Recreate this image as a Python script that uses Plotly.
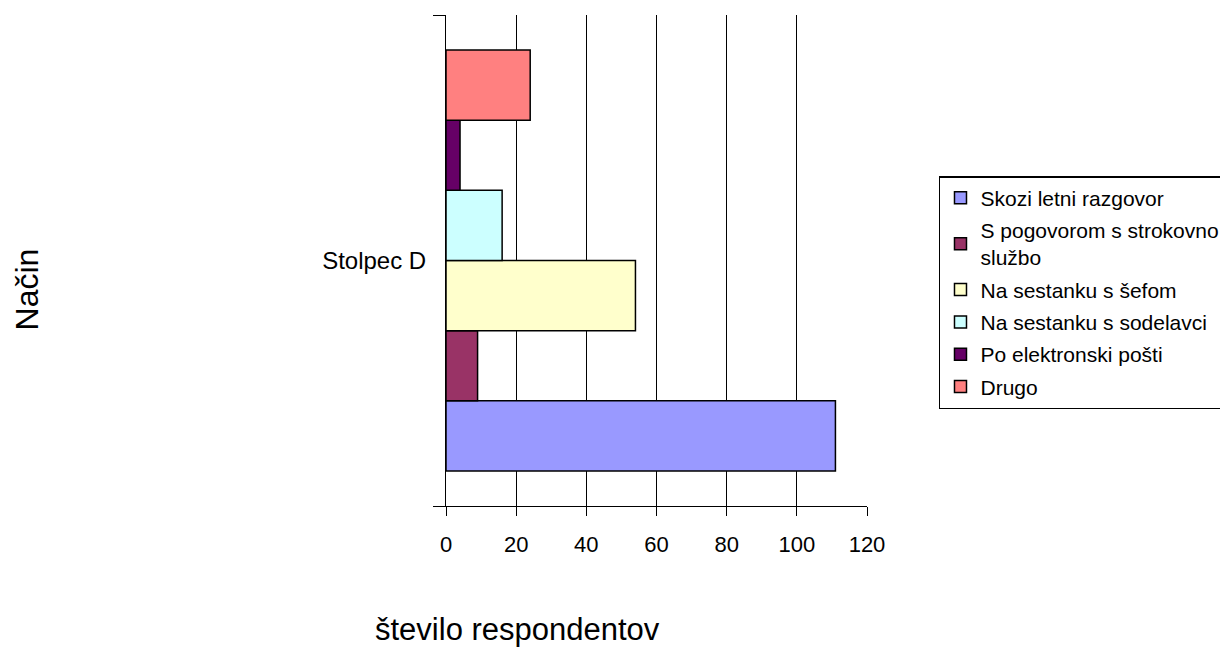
import plotly.graph_objects as go

category = ["Stolpec D"]
series_names = [
    "Skozi letni razgovor",
    "S pogovorom s strokovno<br>službo",
    "Na sestanku s šefom",
    "Na sestanku s sodelavci",
    "Po elektronski pošti",
    "Drugo",
]
series_values = [111, 9, 54, 16, 4, 24]
series_colors = ["#9999FF", "#993366", "#FFFFCC", "#CCFFFF", "#660066", "#FF8080"]
x_ticks = [0, 20, 40, 60, 80, 100, 120]

fig = go.Figure()
for i, (name, val, col) in enumerate(zip(series_names, series_values, series_colors)):
    fig.add_trace(go.Bar(
        y=category, x=[val], name=name, orientation="h",
        legendgroup=f"g{i}",
        marker=dict(color=col, line=dict(color="black", width=1.5)),
    ))

font = "Liberation Sans, Arial, sans-serif"
fig.update_layout(
    width=1228, height=649,
    margin=dict(l=438, r=369, t=7, b=151),
    paper_bgcolor="white", plot_bgcolor="white",
    barmode="group", bargap=0.143, bargroupgap=0,
    font=dict(family=font, size=18, color="black"),
    showlegend=True,
    legend=dict(
        x=1.171, y=0.672, xanchor="left", yanchor="top",
        bgcolor="white", bordercolor="black", borderwidth=1.5,
        font=dict(family=font, size=21, color="black"),
        traceorder="grouped", tracegroupgap=2,
    ),
    xaxis=dict(
        range=[0, 120], tickvals=x_ticks, ticks="outside", ticklen=9,
        tickcolor="black", showline=True, linecolor="black", linewidth=1,
        showgrid=True, gridcolor="black", gridwidth=1, zeroline=False,
        tickfont=dict(size=22), ticklabelstandoff=10,
    ),
    yaxis=dict(
        type="category", tickson="boundaries", ticks="outside", ticklen=12,
        tickcolor="black", showline=True, linecolor="black", linewidth=1,
        showgrid=False, zeroline=False, tickfont=dict(size=24),
        ticklabelstandoff=14,
    ),
    annotations=[
        dict(text="Način", xref="paper", yref="paper", x=-0.993, y=0.441,
             xanchor="center", yanchor="middle", textangle=-90,
             showarrow=False, font=dict(size=32, family=font)),
        dict(text="število respondentov", xref="paper", yref="paper",
             x=0.169, y=-0.2525, xanchor="center", yanchor="middle",
             showarrow=False, font=dict(size=31, family=font)),
    ],
)

fig.write_html("out.html")
